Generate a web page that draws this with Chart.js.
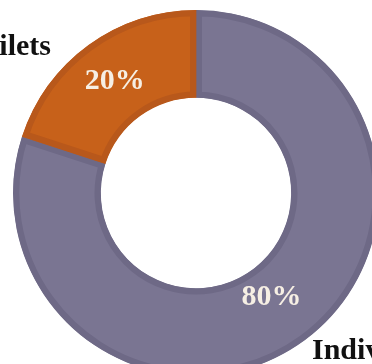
<!DOCTYPE html>
<html>
<head>
<meta charset="utf-8">
<script src="https://cdn.jsdelivr.net/npm/chart.js@4/dist/chart.umd.min.js"></script>
<style>
  html, body { margin: 0; padding: 0; background: #fff; overflow: hidden; }
  #wrap { position: absolute; left: 0; top: 0; width: 392px; height: 386px; }
</style>
</head>
<body>
<div id="wrap"><canvas id="c"></canvas></div>
<script>
// Share of facilities by type
const categories = ['Individual', 'Toilets'];
const shares = [80, 20];
const percentLabels = ['80%', '20%'];

const fillColors = ['#7a7592', '#c7611a'];
const edgeColors = ['#6e6986', '#b8581b'];
// how far across the ring (inner -> outer) each value label sits
const labelDepth = [0.38, 0.49];

// Category names placed beside the ring, value labels inside each slice
const labelPlugin = {
  id: 'sliceLabels',
  afterDatasetsDraw(chart) {
    const ctx = chart.ctx;
    const meta = chart.getDatasetMeta(0);
    ctx.save();
    ctx.textBaseline = 'middle';
    ctx.textAlign = 'center';
    ctx.font = 'bold 30px "Liberation Serif", "Times New Roman", serif';
    ctx.fillStyle = '#f6efe4';
    meta.data.forEach((arc, i) => {
      const mid = (arc.startAngle + arc.endAngle) / 2;
      const r = arc.innerRadius + (arc.outerRadius - arc.innerRadius) * labelDepth[i];
      ctx.fillText(percentLabels[i], arc.x + Math.cos(mid) * r, arc.y + Math.sin(mid) * r);
    });

    ctx.fillStyle = '#111';
    ctx.textBaseline = 'alphabetic';
    ctx.font = 'bold 30px "Liberation Serif", "Times New Roman", serif';
    ctx.textAlign = 'left';
    ctx.fillText(categories[0], 312, 359);
    ctx.textAlign = 'right';
    ctx.fillText(categories[1], 51, 55);
    ctx.restore();
  }
};

new Chart(document.getElementById('c'), {
  type: 'doughnut',
  data: {
    labels: categories,
    datasets: [{
      data: shares,
      backgroundColor: fillColors,
      borderColor: edgeColors,
      borderWidth: 6,
      borderAlign: 'inner'
    }]
  },
  options: {
    responsive: true,
    maintainAspectRatio: false,
    animation: false,
    cutout: '52%',
    rotation: 0,
    layout: { padding: { left: 13, right: 13, top: 10, bottom: 10 } },
    plugins: {
      legend: { display: false },
      tooltip: { enabled: false }
    }
  },
  plugins: [labelPlugin]
});
</script>
</body>
</html>
